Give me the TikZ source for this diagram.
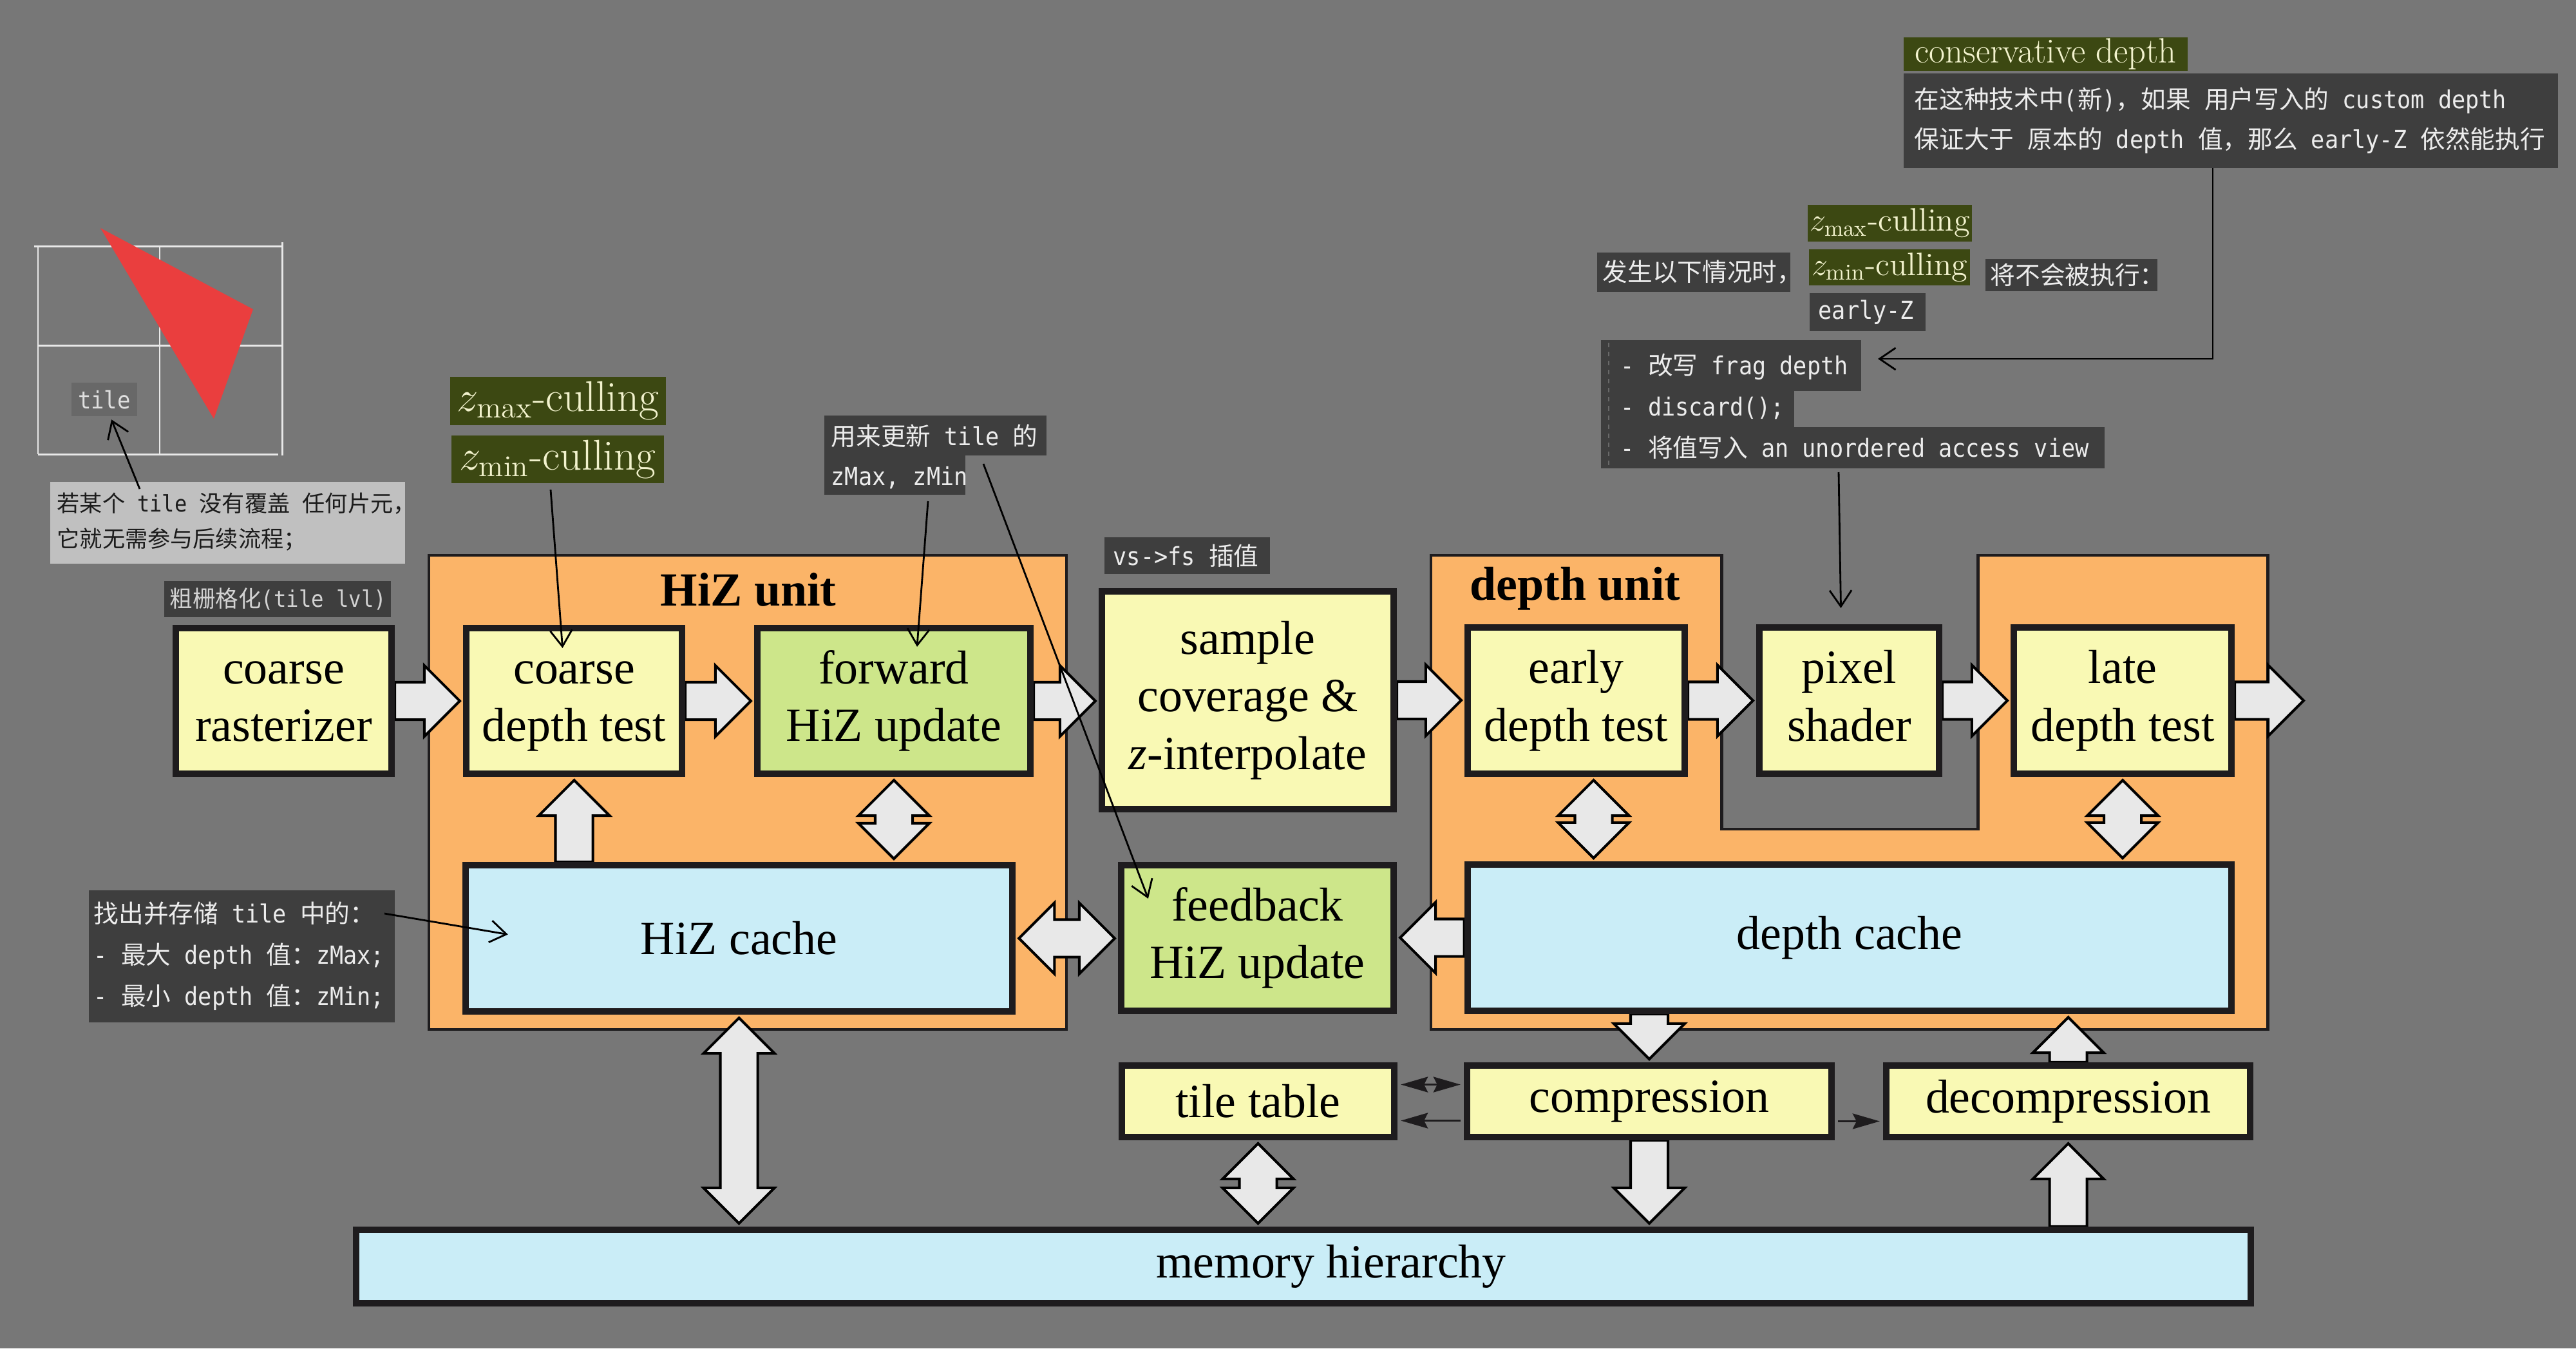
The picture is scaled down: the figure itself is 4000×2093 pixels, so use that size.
\RequirePackage{fix-cm}
\documentclass[tikz,border=0pt]{standalone}
\usepackage{fontspec}
\usetikzlibrary{arrows.meta,calc}
\pgfdeclarelayer{back}
\pgfdeclarelayer{mid}
\pgfsetlayers{back,mid,main}
\newfontfamily\timesf{Liberation Serif}
\newfontfamily\cjkf{Noto Sans CJK SC}
\newfontfamily\monof[FakeStretch=0.91]{DejaVu Sans Mono}
\newcommand\zh[1]{{\cjkf #1}}
\newcommand\boxfont{\timesf\fontsize{21}{25.5}\selectfont}
\newcommand\unitfont{\timesf\bfseries\fontsize{21}{25}\selectfont}
\newcommand\notefont{\monof\fontsize{11}{17.6}\selectfont}
\newcommand\cullLf{\fontsize{19}{20}\selectfont}
\newcommand\cullRf{\fontsize{14.3}{16}\selectfont}
\newcommand\consf{\fontsize{15.5}{17}\selectfont}
\definecolor{bgc}{RGB}{119,119,119}
\definecolor{bord}{RGB}{30,28,30}
\definecolor{cyel}{RGB}{249,249,180}
\definecolor{cgrn}{RGB}{205,230,138}
\definecolor{cblu}{RGB}{202,237,247}
\definecolor{corg}{RGB}{251,180,104}
\definecolor{afill}{RGB}{232,232,232}
\definecolor{notebg}{RGB}{62,62,62}
\definecolor{notefg}{RGB}{236,236,236}
\definecolor{rasfg}{RGB}{210,210,210}
\definecolor{olivebg}{RGB}{60,72,18}
\definecolor{olivefg}{RGB}{242,242,205}
\definecolor{lightnote}{RGB}{192,192,192}
\definecolor{lightfg}{RGB}{28,28,28}
\definecolor{tilebg}{RGB}{104,104,104}
\definecolor{tilefg}{RGB}{222,222,222}
\definecolor{gridc}{RGB}{232,232,232}
\definecolor{tric}{RGB}{234,62,62}
\definecolor{dashc}{RGB}{105,105,105}
\def\ash{0.29cm}
\def\ahw{0.55cm}
\def\ahl{0.55cm}
\newcommand\harr[2]{\draw[barrow] let \p1=(#1), \p2=(#2), \p3=({\x2-sign(\x2-\x1)*\ahl},\y1) in
  (\x1,{\y1+\ash}) -- (\x3,{\y1+\ash}) -- (\x3,{\y1+\ahw}) -- (\x2,\y1) -- (\x3,{\y1-\ahw}) -- (\x3,{\y1-\ash}) -- (\x1,{\y1-\ash}) -- cycle;}
\newcommand\varr[2]{\draw[barrow] let \p1=(#1), \p2=(#2), \p3=(\x1,{\y2-sign(\y2-\y1)*\ahl}) in
  ({\x1+\ash},\y1) -- ({\x1+\ash},\y3) -- ({\x1+\ahw},\y3) -- (\x1,\y2) -- ({\x1-\ahw},\y3) -- ({\x1-\ash},\y3) -- ({\x1-\ash},\y1) -- cycle;}
\newcommand\hdarr[2]{\draw[barrow] let \p1=(#1), \p2=(#2), \n1={sign(\x2-\x1)}, \p3=({\x1+(\n1)*\ahl},\y1), \p4=({\x2-(\n1)*\ahl},\y1) in
  (\x1,\y1) -- (\x3,{\y1+\ahw}) -- (\x3,{\y1+\ash}) -- (\x4,{\y1+\ash}) -- (\x4,{\y1+\ahw}) -- (\x2,\y1) -- (\x4,{\y1-\ahw}) -- (\x4,{\y1-\ash}) -- (\x3,{\y1-\ash}) -- (\x3,{\y1-\ahw}) -- cycle;}
\newcommand\vdarr[2]{\draw[barrow] let \p1=(#1), \p2=(#2), \n1={sign(\y2-\y1)}, \p3=(\x1,{\y1+(\n1)*\ahl}), \p4=(\x1,{\y2-(\n1)*\ahl}) in
  (\x1,\y1) -- ({\x1+\ahw},\y3) -- ({\x1+\ash},\y3) -- ({\x1+\ash},\y4) -- ({\x1+\ahw},\y4) -- (\x1,\y2) -- ({\x1-\ahw},\y4) -- ({\x1-\ash},\y4) -- ({\x1-\ash},\y3) -- ({\x1-\ahw},\y3) -- cycle;}
\newcommand\nbox[8][]{\fill[notebg] (#3,#4) rectangle (#5,#6); \node[notetxt,anchor=west,#1] (#2) at (#7,{(#4+#6)/2}) {#8};}
\begin{document}
\begin{tikzpicture}[x=0.01cm,y=-0.01cm,
  box/.style={draw=bord, line width=2.85pt, inner sep=0pt, align=center, font=\boxfont, text=black},
  ybox/.style={box, fill=cyel},
  gbox/.style={box, fill=cgrn},
  bbox/.style={box, fill=cblu},
  unit/.style={draw=bord, line width=1.4pt, fill=corg},
  barrow/.style={fill=afill, draw=black, line width=1.15pt, line join=miter},
  ann/.style={draw=black, line width=0.8pt, -{Straight Barb[length=0.25cm,width=0.34cm]}},
  stl/.tip={Stealth[length=0.42cm,width=0.24cm,inset=0.06cm]},
  sarr/.style={draw=bord, line width=1pt},
  notetxt/.style={inner sep=0pt, text=notefg, font=\notefont, align=left},
  olive/.style={fill=olivebg, text=olivefg, inner sep=0pt},
  gridl/.style={draw=gridc, line width=0.85pt}]
\useasboundingbox (0,0) rectangle (4000,2093);
\begin{pgfonlayer}{back}
\fill[bgc] (0,0) rectangle (4000,2093);
\draw[unit] (666,862) rectangle (1656,1598);
\draw[unit] (2222,862) -- (2673,862) -- (2673,1287) -- (3071,1287) -- (3071,862) -- (3521,862) -- (3521,1598) -- (2222,1598) -- cycle;
\end{pgfonlayer}
% units labels
\node[font=\unitfont] (hizlab) at (1162,915) {HiZ unit};
\node[font=\unitfont] (deplab) at (2446,914) {depth unit};
% boxes
\node[ybox, minimum width=3.35cm, minimum height=2.26cm] (cr) at (440.5,1088) {\strut coarse\\\strut rasterizer};
\node[ybox, minimum width=3.35cm, minimum height=2.26cm] (cdt) at (891.5,1088) {\strut coarse\\\strut depth test};
\node[gbox, minimum width=4.24cm, minimum height=2.26cm] (fwd) at (1388,1088) {\strut forward\\\strut HiZ update};
\node[bbox, minimum width=8.49cm, minimum height=2.27cm] (hizc) at (1147.5,1456.5) {HiZ cache};
\node[ybox, minimum width=4.53cm, minimum height=3.38cm] (samp) at (1937.5,1087) {\strut sample\\\strut coverage \&\\\strut\textit{z}-interpolate};
\node[gbox, minimum width=4.23cm, minimum height=2.26cm] (fb) at (1952.5,1456) {\strut feedback\\\strut HiZ update};
\node[ybox, minimum width=3.37cm, minimum height=2.27cm] (edt) at (2447.5,1087.5) {\strut early\\\strut depth test};
\node[ybox, minimum width=2.79cm, minimum height=2.27cm] (ps) at (2871.5,1087.5) {\strut pixel\\\strut shader};
\node[ybox, minimum width=3.38cm, minimum height=2.27cm] (ldt) at (3296,1087.5) {\strut late\\\strut depth test};
\node[bbox, minimum width=11.86cm, minimum height=2.27cm] (dc) at (2872,1455.5) {depth cache};
\node[ybox, minimum width=4.23cm, minimum height=1.11cm] (tt) at (1953.5,1709.5) {tile table};
\node[ybox, minimum width=5.66cm, minimum height=1.11cm] (comp) at (2561,1709.5) {compression};
\node[ybox, minimum width=5.65cm, minimum height=1.11cm] (decomp) at (3211.5,1709.5) {decompression};
\node[bbox, minimum width=29.4cm, minimum height=1.14cm] (mem) at (2024,1966) {\hspace*{0.86cm}memory hierarchy};
\coordinate (outtip) at (3577,1087.5);
\coordinate (ex) at ($(edt.south)+(27,0)$);
% block arrows
\begin{pgfonlayer}{mid}
\harr{cr.east}{$(cdt.west)+(-5,0)$}
\harr{cdt.east}{$(fwd.west)+(-5,0)$}
\harr{fwd.east}{$(samp.west)+(-5,0)$}
\harr{samp.east}{$(edt.west)+(-5,0)$}
\harr{edt.east}{$(ps.west)+(-5,0)$}
\harr{ps.east}{$(ldt.west)+(-5,0)$}
\harr{ldt.east}{outtip}
\harr{dc.west}{$(fb.east)+(5,0)$}
\hdarr{$(hizc.east)+(5,0)$}{$(fb.west)+(-5,0)$}
\varr{cdt.south |- hizc.north}{$(cdt.south)+(0,5)$}
\vdarr{$(fwd.south)+(0,5)$}{$(fwd.south |- hizc.north)+(0,-5)$}
\vdarr{$(ex)+(0,5)$}{$(ex |- dc.north)+(0,-5)$}
\vdarr{$(ldt.south)+(0,5)$}{$(ldt.south |- dc.north)+(0,-5)$}
\varr{comp.north |- dc.south}{$(comp.north)+(0,-5)$}
\varr{decomp.north}{$(decomp.north |- dc.south)+(0,5)$}
\vdarr{$(hizc.south)+(0,5)$}{$(hizc.south |- mem.north)+(0,-5)$}
\vdarr{$(tt.south)+(0,5)$}{$(tt.south |- mem.north)+(0,-5)$}
\varr{comp.south}{$(comp.south |- mem.north)+(0,-5)$}
\varr{decomp.south |- mem.north}{$(decomp.south)+(0,5)$}
\end{pgfonlayer}
% small black arrows
\draw[sarr, stl-stl] ($(tt.east)+(5,-26)$) -- ($(comp.west)+(-5,-26)$);
\draw[sarr, -stl] ($(comp.west)+(-5,30)$) -- ($(tt.east)+(5,30)$);
\draw[sarr, -stl] ($(comp.east)+(5,31)$) -- ($(decomp.west)+(-5,31)$);
% tile figure
\draw[gridl] (53,382) -- (438,382) (59,536) -- (440,536) (59,705) -- (432,705)
  (59,382) -- (59,705) (248,382) -- (248,707) (438,376) -- (438,707);
\fill[tric] (156,354) -- (393,480) -- (332,650) -- cycle;
\fill[tilebg] (111,594) rectangle (213,646);
\node[inner sep=0pt, text=tilefg, font=\monof\fontsize{10.6}{12}\selectfont] (tilelab) at (162,620) {tile};
\fill[lightnote] (78,748) rectangle (629,875);
\node[inner sep=0pt, anchor=west, align=left, text=lightfg, font=\monof\fontsize{10}{15.6}\selectfont] (tnote) at (88,810)
  {\zh{若某个} tile \zh{没有覆盖} \zh{任何片元，}\\\zh{它就无需参与后续流程；}};
\coordinate (a4) at (217,759);
\draw[ann] (a4) -- ($(tilelab.south)+(11,16)$);
% left notes
\nbox[text=rasfg, font=\monof\fontsize{10.1}{12}\selectfont]{rasl}{255}{902}{607}{958}{263}{\zh{粗栅格化}(tile lvl)}
\node[olive, font=\cullLf, minimum width=3.35cm, minimum height=0.75cm] (zmaxL) at (866.5,622.5) {$z_{\max}$-culling};
\node[olive, font=\cullLf, minimum width=3.30cm, minimum height=0.74cm] (zminL) at (866,713) {$z_{\min}$-culling};
\coordinate (a5) at (855,760);
\draw[ann] (a5) -- ($(cdt.north)+(-18,36)$);
\fill[notebg] (1280,645) rectangle (1625,707);
\fill[notebg] (1280,707) rectangle (1499,768);
\node[notetxt, anchor=west] (upd) at (1290,709) {\zh{用来更新} tile \zh{的}\\zMax, zMin};
\coordinate (a1) at (1441,778);
\coordinate (a2) at (1527,720);
\draw[ann] (a1) -- ($(fwd.north)+(36,34)$);
\draw[ann] (a2) -- ($(fb.north west)+(47,57)$);
\nbox{vsfs}{1715}{834}{1972}{891}{1728}{vs->fs \zh{插值}}
\nbox[font=\monof\fontsize{11}{18.2}\selectfont]{fnote}{138}{1382}{613}{1587}{145}{\zh{找出并存储} tile \zh{中的：}\\- \zh{最大} depth \zh{值：}zMax;\\- \zh{最小} depth \zh{值：}zMin;}
\coordinate (a3) at (597,1418);
\draw[ann] (a3) -- ($(hizc.west)+(71,-6)$);
% right notes
\node[olive, font=\consf, minimum width=4.41cm, minimum height=0.52cm] (cons) at (3176.5,84) {conservative depth};
\nbox{expl}{2956}{114}{3972}{261}{2972}{\zh{在这种技术中}(\zh{新})\zh{，如果} \zh{用户写入的} custom depth\\\zh{保证大于} \zh{原本的} depth \zh{值，那么} early-Z \zh{依然能执行}}
\node[olive, font=\cullRf, minimum width=2.55cm, minimum height=0.57cm] (zmaxR) at (2934.5,346.5) {$z_{\max}$-culling};
\node[olive, font=\cullRf, minimum width=2.50cm, minimum height=0.56cm] (zminR) at (2934,415) {$z_{\min}$-culling};
\nbox{fs1}{2480}{392}{2780}{453}{2488}{\zh{发生以下情况时，}}
\nbox{fs2}{3083}{402}{3350}{452}{3090}{\zh{将不会被执行：}}
\nbox{earlyz}{2810}{455}{2990}{514}{2823}{early-Z}
\fill[notebg] (2486,528) rectangle (2890,607);
\fill[notebg] (2486,607) rectangle (2786,663);
\fill[notebg] (2486,663) rectangle (3268,727);
\draw[draw=dashc, line width=0.6pt, dash pattern=on 2pt off 2pt] (2498,532) -- (2498,723);
\node[notetxt, anchor=west, font=\monof\fontsize{11}{18.2}\selectfont] (lst) at (2516,631) {- \zh{改写} frag depth\\- discard();\\- \zh{将值写入} an unordered access view};
\coordinate (j1) at (3436,261);
\coordinate (j2) at (2916,557);
\draw[ann] (j1) |- (j2);
\coordinate (j3) at (2855,733);
\draw[ann] (j3) -- ($(ps.north)+(-13,-25)$);
\end{tikzpicture}
\end{document}
